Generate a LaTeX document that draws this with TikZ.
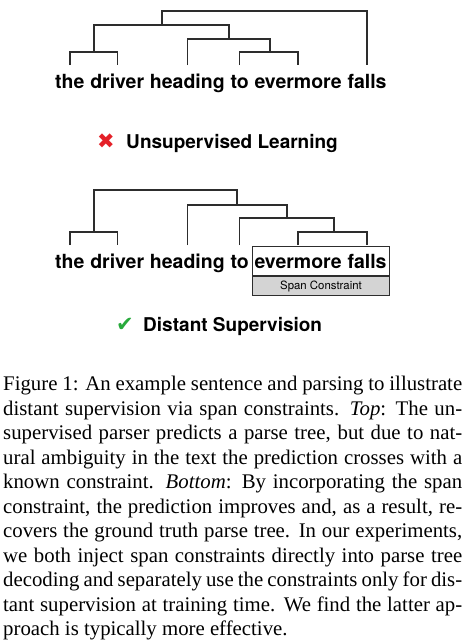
\documentclass[tikz,border=0pt]{standalone}
\usepackage{fontspec}
\setmainfont{Liberation Serif}
\newfontfamily\heros{TeX Gyre Heros}
\newfontfamily\dejavu{DejaVu Sans}
\usetikzlibrary{positioning}
\definecolor{crossred}{RGB}{228,32,40}
\definecolor{checkgreen}{RGB}{40,170,60}
\definecolor{treegray}{RGB}{45,45,45}
\definecolor{spangray}{RGB}{212,212,212}

\begin{document}
\begin{tikzpicture}[x=1pt,y=-1pt,node distance=5.4pt,
                    tree/.style={draw=treegray,line width=1.4pt}]
  \tikzstyle{word}=[inner sep=0pt,font=\heros\bfseries\fontsize{19.5}{22}\selectfont]
  \tikzstyle{result}=[inner sep=0pt,font=\heros\bfseries\fontsize{19}{22}\selectfont]
  \tikzstyle{verdict}=[inner sep=0pt,font=\dejavu\fontsize{21}{21}\selectfont]
  \tikzstyle{spanbox}=[draw=treegray,line width=1pt,minimum width=137pt,minimum height=29pt]
  \tikzstyle{constraint}=[draw=treegray,line width=1pt,fill=spangray,minimum width=137pt,
                          minimum height=19pt,inner sep=0pt,font=\heros\fontsize{11.4}{12}\selectfont]

  \fill[white] (0,0) rectangle (467,643);
  \useasboundingbox (0,0) rectangle (467,643);

  % top: unsupervised parse
  \node[word,anchor=base west] (a1) at (55,88) {the};
  \node[word,base right=of a1] (a2) {driver};
  \node[word,base right=of a2] (a3) {heading};
  \node[word,base right=of a3] (a4) {to};
  \node[word,base right=of a4] (a5) {evermore};
  \node[word,base right=of a5] (a6) {falls};

  \coordinate (ta1) at (a1 |- 0,65);
  \coordinate (ta2) at (a2 |- 0,65);
  \coordinate (ta3) at (a3 |- 0,65);
  \coordinate (ta4) at (a4 |- 0,65);
  \coordinate (ta5) at (a5 |- 0,65);
  \coordinate (ta6) at (a6 |- 0,65);
  \coordinate (pa12) at (94,52);
  \coordinate (pa45) at (270,52);
  \coordinate (pa345) at (229,39);
  \coordinate (pa12345) at (162,25);
  \coordinate (pa-root) at (265,11);

  \draw[tree] (ta1) |- (pa12) -| (ta2);
  \draw[tree] (ta4) |- (pa45) -| (ta5);
  \draw[tree] (ta3) |- (pa345) -| (pa45);
  \draw[tree] (pa12) |- (pa12345) -| (pa345);
  \draw[tree] (pa12345) |- (pa-root) -| (ta6);

  \node[result,anchor=base west] (unsup) at (126,148) {Unsupervised Learning};
  \node[verdict,text=crossred,base left=11pt of unsup] (cross) {✖};

  % bottom: parse with the span constraint
  \node[word,anchor=base west] (b1) at (55,268) {the};
  \node[word,base right=of b1] (b2) {driver};
  \node[word,base right=of b2] (b3) {heading};
  \node[word,base right=of b3] (b4) {to};
  \node[word,base right=of b4] (b5) {evermore};
  \node[word,base right=of b5] (b6) {falls};

  \node[spanbox,anchor=north west] (span) at (252,246) {};
  \node[constraint,anchor=north] (sc) at (span.south) {Span Constraint};

  \coordinate (tb1) at (b1 |- 0,245);
  \coordinate (tb2) at (b2 |- 0,245);
  \coordinate (tb3) at (b3 |- 0,245);
  \coordinate (tb4) at (b4 |- 0,245);
  \coordinate (tb5) at (b5 |- 0,245);
  \coordinate (tb6) at (b6 |- 0,245);
  \coordinate (pb12) at (94,232);
  \coordinate (pb56) at (334,232);
  \coordinate (pb456) at (287,218);
  \coordinate (pb3456) at (237,205);
  \coordinate (pb-root) at (166,190);

  \draw[tree] (tb1) |- (pb12) -| (tb2);
  \draw[tree] (tb5) |- (pb56) -| (tb6);
  \draw[tree] (tb4) |- (pb456) -| (pb56);
  \draw[tree] (tb3) |- (pb3456) -| (pb456);
  \draw[tree] (pb12) |- (pb-root) -| (pb3456);

  \node[result,anchor=base west] (distant) at (143,331) {Distant Supervision};
  \node[verdict,text=checkgreen,base left=9pt of distant] (check) {✔};

  % caption
  \node[anchor=north west,inner sep=0pt,align=left,font=\fontsize{20.8}{24.5}\selectfont] (caption) at (3,376) {%
    \makebox[459pt][s]{Figure 1: An example sentence and parsing to illustrate}\\
    \makebox[459pt][s]{distant supervision via span constraints. \textit{Top}: The un-}\\
    \makebox[459pt][s]{supervised parser predicts a parse tree, but due to nat-}\\
    \makebox[459pt][s]{ural ambiguity in the text the prediction crosses with a}\\
    \makebox[459pt][s]{known constraint. \textit{Bottom}: By incorporating the span}\\
    \makebox[459pt][s]{constraint, the prediction improves and, as a result, re-}\\
    \makebox[459pt][s]{covers the ground truth parse tree. In our experiments,}\\
    \makebox[459pt][s]{we both inject span constraints directly into parse tree}\\
    \makebox[459pt][s]{decoding and separately use the constraints only for dis-}\\
    \makebox[459pt][s]{tant supervision at training time. We find the latter ap-}\\
    proach is typically more effective.};
\end{tikzpicture}
\end{document}
